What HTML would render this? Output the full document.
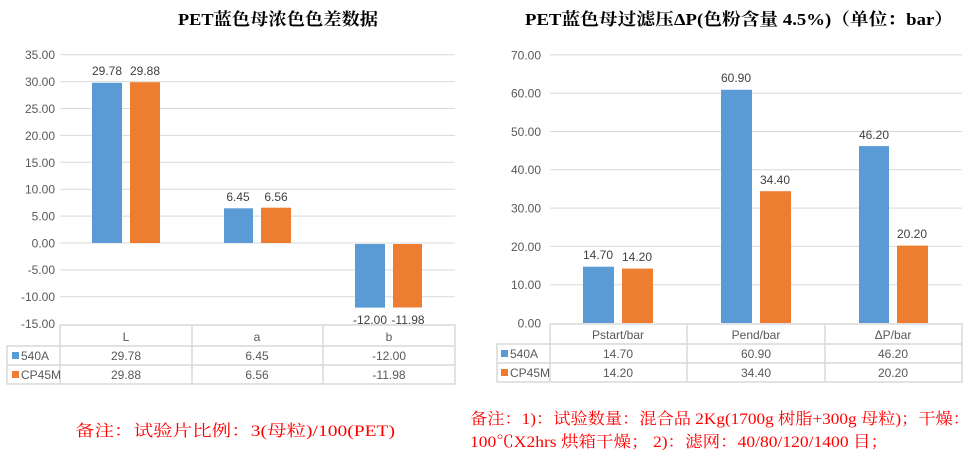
<!DOCTYPE html>
<html><head><meta charset="utf-8"><style>
html,body{margin:0;padding:0;background:#fff;width:974px;height:467px;overflow:hidden}
svg text{font-family:"Liberation Sans","Noto Sans CJK SC",sans-serif}
.t{font-family:"Liberation Serif","Noto Serif CJK SC",serif!important;font-weight:bold;font-size:17px;fill:#000}
.ax{font-size:12px;fill:#595959}
.lb{font-size:12px;fill:#404040}
.tb{font-size:12px;fill:#595959}
.n{font-family:"Liberation Serif","Noto Serif CJK SC",serif!important;font-size:16px;fill:#ff0000}
</style></head><body>
<svg width="974" height="467" xmlns="http://www.w3.org/2000/svg">
<rect width="974" height="467" fill="#fff"/>
<!-- LEFT CHART -->
<text class="t" x="178" y="25" textLength="200" lengthAdjust="spacingAndGlyphs">PET蓝色母浓色色差数据</text>
<g stroke="#d9d9d9" stroke-width="1">
<line x1="60" x2="455" y1="54.7" y2="54.7"/><line x1="60" x2="455" y1="81.6" y2="81.6"/><line x1="60" x2="455" y1="108.5" y2="108.5"/><line x1="60" x2="455" y1="135.4" y2="135.4"/><line x1="60" x2="455" y1="162.3" y2="162.3"/><line x1="60" x2="455" y1="189.2" y2="189.2"/><line x1="60" x2="455" y1="216.1" y2="216.1"/><line x1="60" x2="455" y1="243" y2="243"/><line x1="60" x2="455" y1="269.9" y2="269.9"/><line x1="60" x2="455" y1="296.8" y2="296.8"/>
</g>
<g class="ax" text-anchor="end">
<text x="55" y="59">35.00</text><text x="55" y="86">30.00</text><text x="55" y="113">25.00</text><text x="55" y="140">20.00</text><text x="55" y="167">15.00</text><text x="55" y="193.5">10.00</text><text x="55" y="220.5">5.00</text><text x="55" y="247.5">0.00</text><text x="55" y="274">-5.00</text><text x="55" y="301">-10.00</text><text x="55" y="328">-15.00</text>
</g>
<rect x="92" y="82.8" width="30" height="160.2" fill="#5b9bd5"/>
<rect x="130" y="82.2" width="30" height="160.8" fill="#ed7d31"/>
<rect x="224" y="208.3" width="29" height="34.7" fill="#5b9bd5"/>
<rect x="261" y="207.7" width="30" height="35.3" fill="#ed7d31"/>
<rect x="355" y="244" width="30" height="63.6" fill="#5b9bd5"/>
<rect x="393" y="244" width="29" height="63.5" fill="#ed7d31"/>
<g class="lb" text-anchor="middle">
<text x="107" y="75">29.78</text><text x="145" y="75">29.88</text>
<text x="238" y="201">6.45</text><text x="276" y="201">6.56</text>
<text x="370" y="324">-12.00</text><text x="408" y="324">-11.98</text>
</g>
<g stroke="#d9d9d9" stroke-width="1.5" fill="none">
<path d="M60 325H455V384H7V346H455M7 365H455M60 325V384M192 325V384M323 325V384M455 325V384M7 346V384"/>
</g>
<g class="tb" text-anchor="middle">
<text x="126" y="341">L</text><text x="257" y="341">a</text><text x="389" y="341">b</text>
<text x="126" y="360">29.78</text><text x="257" y="360">6.45</text><text x="389" y="360">-12.00</text>
<text x="126" y="379">29.88</text><text x="257" y="379">6.56</text><text x="389" y="379">-11.98</text>
</g>
<rect x="12" y="352" width="7" height="7" fill="#5b9bd5"/><text class="tb" x="21" y="360">540A</text>
<rect x="12" y="371" width="7" height="7" fill="#ed7d31"/><text class="tb" x="21" y="379">CP45M</text>
<text class="n" x="75" y="436" textLength="320" lengthAdjust="spacingAndGlyphs">备注：试验片比例：3(母粒)/100(PET)</text>

<!-- RIGHT CHART -->
<text class="t" x="525" y="25" textLength="428" lengthAdjust="spacingAndGlyphs">PET蓝色母过滤压ΔP(色粉含量 4.5%)（单位：bar）</text>
<g stroke="#d9d9d9" stroke-width="1">
<line x1="550" x2="962" y1="54.9" y2="54.9"/><line x1="550" x2="962" y1="93.2" y2="93.2"/><line x1="550" x2="962" y1="131.5" y2="131.5"/><line x1="550" x2="962" y1="169.8" y2="169.8"/><line x1="550" x2="962" y1="208.1" y2="208.1"/><line x1="550" x2="962" y1="246.4" y2="246.4"/><line x1="550" x2="962" y1="284.7" y2="284.7"/>
</g>
<g class="ax" text-anchor="end">
<text x="541" y="59.5">70.00</text><text x="541" y="97.5">60.00</text><text x="541" y="136">50.00</text><text x="541" y="174">40.00</text><text x="541" y="212.5">30.00</text><text x="541" y="251">20.00</text><text x="541" y="289">10.00</text><text x="541" y="327.5">0.00</text>
</g>
<rect x="583" y="266.7" width="31" height="56.3" fill="#5b9bd5"/>
<rect x="622" y="268.6" width="31" height="54.4" fill="#ed7d31"/>
<rect x="721" y="89.8" width="31" height="233.2" fill="#5b9bd5"/>
<rect x="760" y="191.2" width="31" height="131.8" fill="#ed7d31"/>
<rect x="859" y="146.1" width="30" height="176.9" fill="#5b9bd5"/>
<rect x="897" y="245.6" width="31" height="77.4" fill="#ed7d31"/>
<g class="lb" text-anchor="middle">
<text x="598" y="259">14.70</text><text x="637" y="261">14.20</text>
<text x="736" y="82">60.90</text><text x="775" y="184">34.40</text>
<text x="874" y="139">46.20</text><text x="912" y="238">20.20</text>
</g>
<g stroke="#d9d9d9" stroke-width="1.5" fill="none">
<path d="M550 324H962V382H497V344H962M497 363H962M550 324V382M687 324V382M825 324V382M962 324V382M497 344V382"/>
</g>
<g class="tb" text-anchor="middle">
<text x="618" y="339">Pstart/bar</text><text x="756" y="339">Pend/bar</text><text x="893" y="339">ΔP/bar</text>
<text x="618" y="358">14.70</text><text x="756" y="358">60.90</text><text x="893" y="358">46.20</text>
<text x="618" y="377">14.20</text><text x="756" y="377">34.40</text><text x="893" y="377">20.20</text>
</g>
<rect x="501" y="350" width="7" height="7" fill="#5b9bd5"/><text class="tb" x="510" y="358">540A</text>
<rect x="501" y="369" width="7" height="7" fill="#ed7d31"/><text class="tb" x="510" y="377">CP45M</text>
<text class="n" x="470" y="424" textLength="500" lengthAdjust="spacingAndGlyphs">备注：1)：试验数量：混合品 2Kg(1700g 树脂+300g 母粒)；干燥：</text>
<text class="n" x="470" y="447" textLength="418" lengthAdjust="spacingAndGlyphs">100℃X2hrs 烘箱干燥； 2)：滤网：40/80/120/1400 目；</text>
</svg>
</body></html>
